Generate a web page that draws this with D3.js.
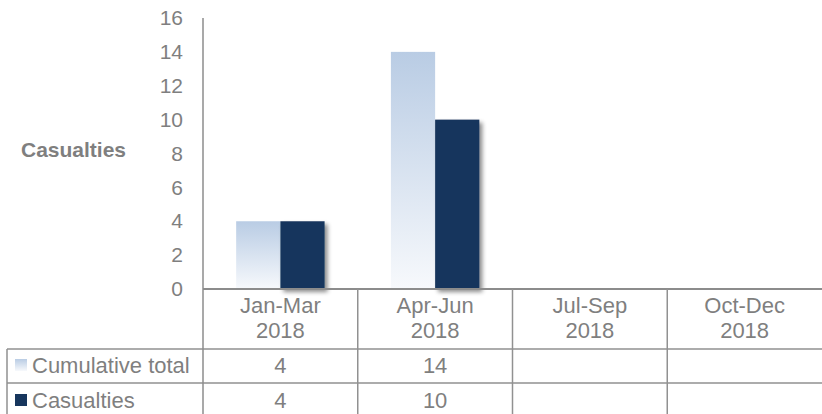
<!DOCTYPE html>
<meta charset="utf-8">
<script src="https://d3js.org/d3.v7.min.js"></script>
<style>
  body { margin: 0; background: #fff; }
  text { font-family: "Liberation Sans", Arial, sans-serif; fill: #7f7f7f; }
</style>
<body>
<div id="my_dataviz"></div>
<script>
  // chart data
  var quarters = ["Jan-Mar", "Apr-Jun", "Jul-Sep", "Oct-Dec"];
  var years = ["2018", "2018", "2018", "2018"];
  var seriesNames = ["Cumulative total", "Casualties"];
  var cumulativeTotal = [4, 14, null, null];
  var casualties = [4, 10, null, null];
  var yTicks = [0, 2, 4, 6, 8, 10, 12, 14, 16];
  var yTitle = "Casualties";

  var W = 822, H = 414;
  var plot = { left: 203, right: 822, top: 18, bottom: 289 };
  var rowLines = [289, 349, 383];

  var svg = d3.select("#my_dataviz")
    .append("svg")
    .attr("width", W)
    .attr("height", H);

  var defs = svg.append("defs");
  var grad = defs.append("linearGradient")
    .attr("id", "cumGrad")
    .attr("x1", 0).attr("y1", 0).attr("x2", 0).attr("y2", 1);
  grad.append("stop").attr("offset", "0%").attr("stop-color", "#b9cce4");
  grad.append("stop").attr("offset", "100%").attr("stop-color", "#f7f9fc");

  var shadow = defs.append("filter")
    .attr("id", "shadow")
    .attr("x", "-20%").attr("y", "-10%").attr("width", "150%").attr("height", "130%");
  shadow.append("feDropShadow")
    .attr("dx", 3).attr("dy", 3).attr("stdDeviation", 2)
    .attr("flood-color", "#000").attr("flood-opacity", 0.45);

  // scales
  var x0 = d3.scaleBand()
    .domain(quarters)
    .range([plot.left, plot.right])
    .padding(0);
  var x1 = d3.scaleBand()
    .domain(seriesNames)
    .range([0, x0.bandwidth()])
    .paddingInner(0)
    .paddingOuter(0.75);
  var y = d3.scaleLinear()
    .domain([0, 16])
    .range([plot.bottom, plot.top]);

  // y axis labels
  var yAxis = svg.append("g")
    .attr("transform", "translate(" + plot.left + ",0)")
    .call(d3.axisLeft(y).tickValues(yTicks).tickSize(0).tickPadding(20));
  yAxis.select(".domain").remove();
  yAxis.selectAll("text")
    .style("font-size", "21px")
    .attr("fill", "#7f7f7f")
    .style("font-family", "'Liberation Sans', Arial, sans-serif");

  svg.append("text")
    .attr("x", 21)
    .attr("y", 150)
    .attr("dy", "0.35em")
    .style("font-size", "21px")
    .style("font-weight", "bold")
    .text(yTitle);

  // bars
  var seriesData = [cumulativeTotal, casualties];
  seriesNames.forEach(function(name, si) {
    var vals = seriesData[si].map(function(v, i) { return { q: quarters[i], v: v }; })
      .filter(function(d) { return d.v != null; });
    svg.append("g")
      .selectAll("rect")
      .data(vals)
      .enter()
      .append("rect")
      .attr("x", function(d) { return x0(d.q) + x1(name); })
      .attr("y", function(d) { return y(d.v); })
      .attr("width", x1.bandwidth())
      .attr("height", function(d) { return y(0) - y(d.v); })
      .attr("fill", si == 0 ? "url(#cumGrad)" : "#17365d")
      .attr("filter", si == 0 ? null : "url(#shadow)");
  });

  // table lines
  var lineColor = "#919191";
  var tbl = svg.append("g");
  tbl.append("line")
    .attr("x1", plot.left).attr("x2", W)
    .attr("y1", rowLines[0]).attr("y2", rowLines[0])
    .attr("stroke", "#8c8c8c").attr("stroke-width", 2);
  [rowLines[1], rowLines[2]].forEach(function(ly) {
    tbl.append("line")
      .attr("x1", 7).attr("x2", W)
      .attr("y1", ly).attr("y2", ly)
      .attr("stroke", lineColor).attr("stroke-width", 1.5);
  });
  tbl.append("line")
    .attr("x1", plot.left).attr("x2", plot.left)
    .attr("y1", plot.top).attr("y2", H)
    .attr("stroke", "#8c8c8c").attr("stroke-width", 1.5);
  tbl.append("line")
    .attr("x1", 7).attr("x2", 7)
    .attr("y1", rowLines[1]).attr("y2", H)
    .attr("stroke", lineColor).attr("stroke-width", 1.5);
  quarters.slice(1).forEach(function(q) {
    tbl.append("line")
      .attr("x1", x0(q)).attr("x2", x0(q))
      .attr("y1", rowLines[0]).attr("y2", H)
      .attr("stroke", lineColor).attr("stroke-width", 1.5);
  });

  // category labels
  var cat = svg.append("g")
    .selectAll("text")
    .data(quarters)
    .enter()
    .append("text")
    .attr("text-anchor", "middle")
    .style("font-size", "22px");
  cat.append("tspan")
    .attr("x", function(d) { return x0(d) + x0.bandwidth() / 2; })
    .attr("y", 313)
    .text(function(d) { return d; });
  cat.append("tspan")
    .attr("x", function(d) { return x0(d) + x0.bandwidth() / 2; })
    .attr("y", 338)
    .text(function(d, i) { return years[i]; });

  // data rows
  var rowBase = [373, 408];
  seriesNames.forEach(function(name, si) {
    svg.append("rect")
      .attr("x", 15)
      .attr("y", rowBase[si] - 14)
      .attr("width", 12)
      .attr("height", 12)
      .attr("fill", si == 0 ? "url(#cumGrad)" : "#17365d");
    svg.append("text")
      .attr("x", 32)
      .attr("y", rowBase[si])
      .style("font-size", "22px")
      .text(name);
    svg.append("g")
      .selectAll("text")
      .data(seriesData[si].map(function(v, i) { return { q: quarters[i], v: v }; })
        .filter(function(d) { return d.v != null; }))
      .enter()
      .append("text")
      .attr("x", function(d) { return x0(d.q) + x0.bandwidth() / 2; })
      .attr("y", rowBase[si])
      .attr("text-anchor", "middle")
      .style("font-size", "22px")
      .text(function(d) { return d.v; });
  });
</script>
</body>
</html>
